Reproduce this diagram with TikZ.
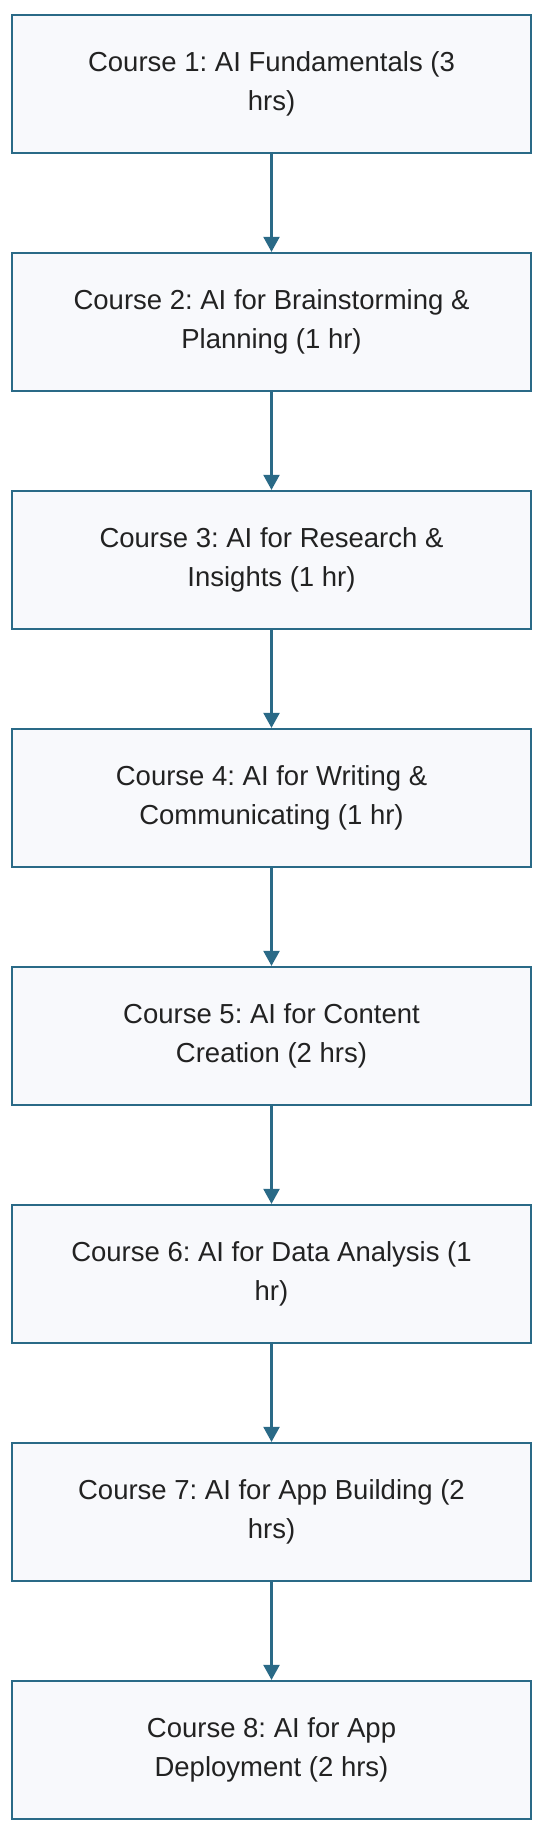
\documentclass[tikz,border=0pt]{standalone}
\usepackage{fontspec}
\setmainfont{Liberation Sans}
\usetikzlibrary{arrows.meta}
\definecolor{edgec}{RGB}{42,106,135}
\definecolor{boxfill}{RGB}{248,249,252}
\definecolor{txt}{RGB}{34,34,34}
\frenchspacing
\begin{document}
\begin{tikzpicture}[x=1pt,y=-1pt,
  coursebox/.style={draw=edgec, line width=2.2pt, fill=boxfill,
    minimum width=519pt, minimum height=137.7pt, inner sep=0pt,
    align=center, font=\fontsize{27.5}{39.5}\selectfont, text=txt},
  flow/.style={draw=edgec, line width=2.2pt, -{Triangle[width=16pt,length=15pt]}}]
\useasboundingbox (0,0) rectangle (548,1834);
\node[coursebox] (c1) at (271.5,83.85) {Course 1: AI Fundamentals (3\\hrs)};
\node[coursebox] (c2) at (271.5,321.85) {Course 2: AI for Brainstorming \&\\Planning (1 hr)};
\node[coursebox] (c3) at (271.5,559.85) {Course 3: AI for Research \&\\Insights (1 hr)};
\node[coursebox] (c4) at (271.5,797.85) {Course 4: AI for Writing \&\\Communicating (1 hr)};
\node[coursebox] (c5) at (271.5,1035.85) {Course 5: AI for Content\\Creation (2 hrs)};
\node[coursebox] (c6) at (271.5,1273.85) {Course 6: AI for Data Analysis (1\\hr)};
\node[coursebox] (c7) at (271.5,1511.85) {Course 7: AI for App Building (2\\hrs)};
\node[coursebox] (c8) at (271.5,1749.85) {Course 8: AI for App\\Deployment (2 hrs)};
\foreach \a/\b in {c1/c2,c2/c3,c3/c4,c4/c5,c5/c6,c6/c7,c7/c8}
  \draw[flow] (\a.south) -- (\b.north);
\end{tikzpicture}
\end{document}
